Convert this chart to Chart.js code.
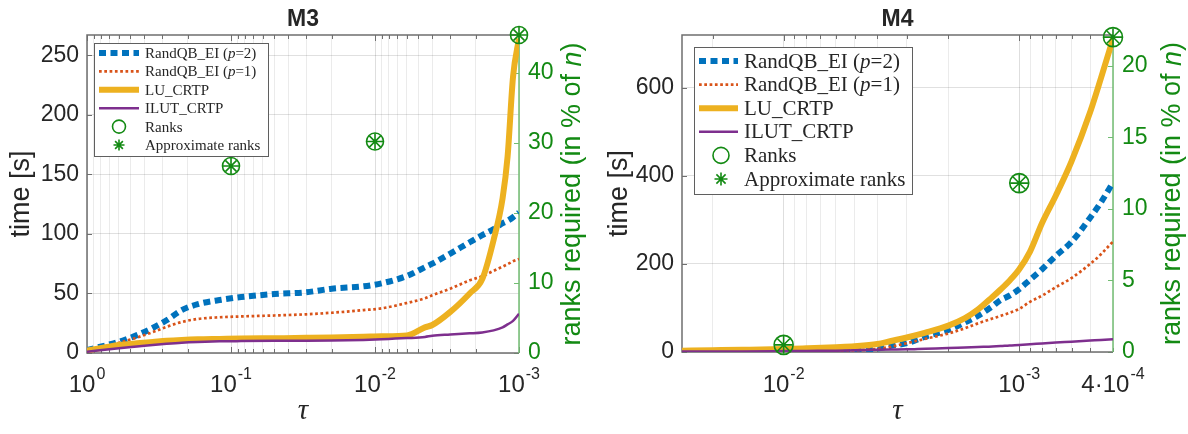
<!DOCTYPE html>
<html>
<head>
<meta charset="utf-8">
<script src="https://cdn.jsdelivr.net/npm/chart.js@4.4.0/dist/chart.umd.min.js"></script>
<style>
  html, body { margin: 0; padding: 0; background: #fff; }
  #wrap { position: relative; width: 1188px; height: 434px; }
  canvas { position: absolute; top: 0; }
  #m3 { left: 0; }
  #m4 { left: 594px; }
</style>
</head>
<body>
<div id="wrap">
  <canvas id="m3" width="594" height="434"></canvas>
  <canvas id="m4" width="594" height="434"></canvas>
</div>
<script>
// ---- data ----
const seriesNames = ['RandQB_EI (p=2)', 'RandQB_EI (p=1)', 'LU_CRTP', 'ILUT_CRTP', 'Ranks', 'Approximate ranks'];

// M3
const tauM3 = [1, 0.6, 0.45, 0.35, 0.28, 0.22, 0.17, 0.12, 0.085, 0.05, 0.03, 0.02, 0.012, 0.009, 0.006, 0.0045, 0.004, 0.003, 0.0022, 0.0018, 0.0015, 0.0013, 0.0012, 0.0011, 0.001];
const randQBp2M3 = [2.5, 9.5, 15, 21, 27.5, 36, 41, 44.5, 47, 49.5, 51, 54, 56, 58.5, 64.7, 72, 75, 83.5, 93, 99, 104, 109, 111, 114, 118];
const randQBp1M3 = [1, 8.5, 13, 17.5, 22, 26, 28.6, 30, 30.7, 31.5, 32.5, 33.8, 36, 37.5, 42, 46, 48.5, 54, 61, 64.5, 69, 72.5, 74.5, 77, 79];
const luM3 = [2, 6.7, 8.2, 9.3, 10.3, 11, 11.5, 11.8, 12.1, 12.4, 12.7, 13, 13.6, 14, 14.8, 21.5, 23.5, 34.5, 50, 62, 95, 130, 165, 232, 264];
const ilutM3 = [1, 4, 5.5, 6.8, 7.8, 8.7, 9.3, 9.8, 10, 10.2, 10.3, 10.5, 11, 11.5, 12.5, 13.5, 14.5, 15.5, 16.5, 17.3, 19, 21.5, 24, 27, 33];
const rankTauM3 = [0.1, 0.01, 0.001];
const ranksM3 = [26.7, 30.2, 45.4];
const yTicksM3 = [0, 50, 100, 150, 200, 250];
const rTicksM3 = [0, 10, 20, 30, 40];
const xTickValsM3 = [1, 0.1, 0.01, 0.001];
const xTickLabelsM3 = ['10^0', '10^-1', '10^-2', '10^-3'];

// M4
const tauM4 = [0.027, 0.02, 0.015, 0.01, 0.008, 0.006, 0.005, 0.004, 0.0035, 0.003, 0.0025, 0.002, 0.0017, 0.0015, 0.0013, 0.0012, 0.0011, 0.001, 0.0009, 0.0008, 0.0007, 0.0006, 0.0005, 0.00045, 0.0004];
const randQBp2M4 = [1.5, 1.5, 1.8, 2, 2.5, 3, 4, 8, 14, 20, 35, 50, 67, 82, 104, 118, 128, 143, 164, 188, 218, 250, 305, 340, 385];
const randQBp1M4 = [1, 1, 1.2, 1.5, 2, 3, 4, 7, 12, 20, 30, 42, 54, 65, 76, 82, 89, 98, 114, 128, 147, 168, 200, 222, 251];
const luM4 = [3, 4, 5, 6.8, 8.5, 11, 13, 18, 25, 33, 44, 60, 77, 96, 125, 142, 162, 188, 228, 293, 355, 433, 545, 622, 712];
const ilutM4 = [1, 1, 1.2, 2, 2.5, 3, 4, 5, 5.5, 6, 7.5, 9, 10.5, 11.5, 12.5, 13.5, 15, 16, 17.5, 19.5, 21.5, 23.5, 26, 27.5, 29];
const rankTauM4 = [0.01, 0.001, 0.0004];
const ranksM4 = [0.5, 11.8, 22.0];
const yTicksM4 = [0, 200, 400, 600];
const rTicksM4 = [0, 5, 10, 15, 20];
const xTickValsM4 = [0.01, 0.001, 0.0004];
const xTickLabelsM4 = ['10^-2', '10^-3', '4\u00b710^-4'];

// ---- styling ----
const SANS = '"Liberation Sans", Arial, Helvetica, sans-serif';
const SERIF = '"Liberation Serif", "Times New Roman", serif';
const INK = '#262626';
const BOX = '#6f6f6f';
const GREEN = '#138a13';
const GREEN_AXIS = '#72bd72';
const BLUE = '#0072BD', RED = '#D95319', YELLOW = '#EDB120', PURPLE = '#7E2F8E';

function isDecade(v) {
  const l = Math.log10(v);
  return Math.abs(l - Math.round(l)) < 1e-6;
}

// every 1..9 x 10^k inside [lo, hi] (for grid lines / minor ticks)
function logGridValues(lo, hi) {
  const out = [];
  for (let k = Math.floor(Math.log10(lo)); k <= Math.ceil(Math.log10(hi)); k++) {
    for (let m = 1; m <= 9; m++) {
      const v = Number((m * Math.pow(10, k)).toPrecision(6));
      if (v >= lo * 0.9999 && v <= hi * 1.0001) out.push(v);
    }
  }
  return out;
}

function seg(ctx, x1, y1, x2, y2) {
  ctx.beginPath(); ctx.moveTo(x1, y1); ctx.lineTo(x2, y2); ctx.stroke();
}

function starPath(ctx, x, y, r) {
  ctx.beginPath();
  for (let k = 0; k < 4; k++) {
    const a = k * Math.PI / 4;
    ctx.moveTo(x - Math.cos(a) * r, y - Math.sin(a) * r);
    ctx.lineTo(x + Math.cos(a) * r, y + Math.sin(a) * r);
  }
  ctx.stroke();
}

// draw a list of [text, italic] parts starting at x
function drawParts(ctx, parts, x, y, size, family) {
  let cx = x;
  parts.forEach(([t, it]) => {
    ctx.font = (it ? 'italic ' : '') + size + 'px ' + family;
    ctx.fillText(t, cx, y);
    cx += ctx.measureText(t).width;
  });
}
function partsWidth(ctx, parts, size, family) {
  let w = 0;
  parts.forEach(([t, it]) => {
    ctx.font = (it ? 'italic ' : '') + size + 'px ' + family;
    w += ctx.measureText(t).width;
  });
  return w;
}
function legendParts(text) {
  const m = text.match(/^(.*\()([a-z])(=.*)$/);
  return m ? [[m[1], false], [m[2], true], [m[3], false]] : [[text, false]];
}

const overlay = {
  id: 'overlay',
  beforeDatasetsDraw(chart, args, o) {
    const { ctx, chartArea: a, scales } = chart;
    const xs = scales.x, ys = scales.y, y2 = scales.y2;
    ctx.save();
    ctx.lineWidth = 1;
    ctx.strokeStyle = BOX;
    xs.ticks.forEach(t => {
      const px = Math.round(xs.getPixelForValue(t.value)) + 0.5;
      const len = isDecade(t.value) ? 6 : 4;
      seg(ctx, px, a.bottom, px, a.bottom - len);
      seg(ctx, px, a.top, px, a.top + len);
    });
    ys.ticks.forEach(t => {
      const py = Math.round(ys.getPixelForValue(t.value)) + 0.5;
      seg(ctx, a.left, py, a.left + 5, py);
    });
    ctx.strokeStyle = GREEN_AXIS;
    y2.ticks.forEach(t => {
      const py = Math.round(y2.getPixelForValue(t.value)) + 0.5;
      seg(ctx, a.right, py, a.right - 5, py);
    });
    ctx.lineWidth = 1.5;
    ctx.strokeStyle = BOX;
    ctx.beginPath();
    ctx.moveTo(a.right, a.top); ctx.lineTo(a.left, a.top);
    ctx.lineTo(a.left, a.bottom); ctx.lineTo(a.right, a.bottom);
    ctx.stroke();
    ctx.strokeStyle = GREEN_AXIS;
    seg(ctx, a.right, a.top, a.right, a.bottom);
    ctx.restore();
  },
  afterDraw(chart, args, o) {
    const { ctx, chartArea: a, scales } = chart;
    const xs = scales.x;
    const midX = (a.left + a.right) / 2, midY = (a.top + a.bottom) / 2;
    ctx.save();

    // x tick labels with exponents
    ctx.fillStyle = INK;
    ctx.textAlign = 'left';
    ctx.textBaseline = 'alphabetic';
    o.xTickVals.forEach((v, i) => {
      const [base, exp] = o.xTickLabels[i].split('^');
      const px = xs.getPixelForValue(v);
      ctx.font = '24px ' + SANS; const wb = ctx.measureText(base).width;
      ctx.font = '16px ' + SANS; const we = ctx.measureText(exp).width;
      const x0 = px - (wb + we + 1) / 2;
      ctx.font = '24px ' + SANS; ctx.fillText(base, x0, 392);
      ctx.font = '16px ' + SANS; ctx.fillText(exp, x0 + wb + 1, 379);
    });

    // title
    ctx.textAlign = 'center';
    ctx.textBaseline = 'middle';
    ctx.font = 'bold 23px ' + SANS;
    ctx.fillText(o.title, midX, 20);

    // x title
    ctx.font = 'italic 29px ' + SERIF;
    ctx.fillText('\u03c4', midX, 411);

    // left y title
    ctx.save();
    ctx.translate(o.yTitleX, midY);
    ctx.rotate(-Math.PI / 2);
    ctx.font = '27px ' + SANS;
    ctx.fillText('time [s]', 0, 0);
    ctx.restore();

    // right y title
    ctx.save();
    ctx.translate(o.rTitleX, midY);
    ctx.rotate(-Math.PI / 2);
    ctx.fillStyle = GREEN;
    ctx.textAlign = 'left';
    const rParts = [['ranks required (in % of ', false], ['n', true], [')', false]];
    const rw = partsWidth(ctx, rParts, 27, SANS);
    drawParts(ctx, rParts, -rw / 2, 0, 27, SANS);
    ctx.restore();

    // legend
    const L = o.legend;
    ctx.fillStyle = '#fff';
    ctx.fillRect(L.x, L.y, L.w, L.h);
    ctx.strokeStyle = '#5f5f5f';
    ctx.lineWidth = 1;
    ctx.strokeRect(L.x + 0.5, L.y + 0.5, L.w, L.h);
    chart.data.datasets.forEach((ds, i) => {
      const ry = L.row0 + i * L.dy;
      if (ds.showLine !== false) {
        ctx.setLineDash(ds.borderDash || []);
        ctx.lineCap = 'butt';
        ctx.lineWidth = ds.borderWidth;
        ctx.strokeStyle = ds.borderColor;
        seg(ctx, L.x1, ry, L.x2, ry);
        ctx.setLineDash([]);
      } else if (ds.pointStyle === 'circle') {
        ctx.strokeStyle = GREEN; ctx.lineWidth = 1.6;
        ctx.beginPath(); ctx.arc(L.mx, ry, L.cr, 0, 2 * Math.PI); ctx.stroke();
      } else {
        ctx.strokeStyle = GREEN; ctx.lineWidth = 1.6;
        starPath(ctx, L.mx, ry, L.sr);
      }
      ctx.fillStyle = INK;
      ctx.textAlign = 'left';
      ctx.textBaseline = 'middle';
      drawParts(ctx, legendParts(ds.label), L.tx, ry + 1, L.font, SERIF);
    });
    ctx.restore();
  }
};

function lineSet(label, tau, vals, color, width, dash, order) {
  return {
    label, order,
    data: tau.map((t, i) => ({ x: t, y: vals[i] })),
    yAxisID: 'y',
    borderColor: color, backgroundColor: color,
    borderWidth: width, borderDash: dash, borderCapStyle: 'butt',
    pointRadius: 0, fill: false,
    cubicInterpolationMode: 'monotone'
  };
}

function markerSet(label, tau, ranks, style, r, order) {
  return {
    label, order,
    data: tau.map((t, i) => ({ x: t, y: ranks[i] })),
    yAxisID: 'y2',
    showLine: false, clip: false,
    pointStyle: style, pointRadius: r, pointBorderWidth: 1.6,
    pointBorderColor: GREEN, pointBackgroundColor: 'rgba(0,0,0,0)',
    borderColor: GREEN, backgroundColor: 'rgba(0,0,0,0)'
  };
}

function makeChart(id, c) {
  const gridX = logGridValues(c.xMin, c.xMax);
  const tickList = arr => scale => { scale.ticks = arr.map(v => ({ value: v })); };
  return new Chart(document.getElementById(id), {
    type: 'line',
    data: {
      datasets: [
        lineSet(seriesNames[0], c.tau, c.series[0], BLUE, 6, [7, 4.5], 5),
        lineSet(seriesNames[1], c.tau, c.series[1], RED, 2.7, [2.7, 2.6], 4),
        lineSet(seriesNames[2], c.tau, c.series[2], YELLOW, 6, [], 3),
        lineSet(seriesNames[3], c.tau, c.series[3], PURPLE, 2.5, [], 2),
        markerSet(seriesNames[4], c.rankTau, c.ranks, 'circle', c.circleR, 1),
        markerSet(seriesNames[5], c.rankTau, c.ranks, 'star', c.starR, 0)
      ]
    },
    options: {
      responsive: false,
      animation: false,
      events: [],
      layout: { padding: { top: 35, left: 0, right: 0, bottom: 0 } },
      scales: {
        x: {
          type: 'logarithmic', reverse: true, bounds: 'data',
          min: c.xMin, max: c.xMax,
          afterBuildTicks: tickList(gridX),
          ticks: { display: false },
          grid: {
            drawTicks: false,
            color: ctx => isDecade(ctx.tick.value) ? 'rgba(0,0,0,0.13)' : 'rgba(0,0,0,0.08)'
          },
          border: { display: false },
          afterFit: s => { s.height = c.xAxisH; }
        },
        y: {
          type: 'linear', position: 'left', bounds: 'data',
          min: 0, max: c.yMax,
          afterBuildTicks: tickList(c.yTicks),
          ticks: { font: { family: SANS, size: 23 }, color: INK, padding: 8 },
          grid: { drawTicks: false, color: 'rgba(0,0,0,0.12)' },
          border: { display: false },
          afterFit: s => { s.width = c.yAxisW; }
        },
        y2: {
          type: 'linear', position: 'right', bounds: 'data',
          min: 0, max: c.rMax,
          afterBuildTicks: tickList(c.rTicks),
          ticks: { font: { family: SANS, size: 23 }, color: GREEN, padding: 9 },
          grid: { display: false, drawOnChartArea: false, drawTicks: false },
          border: { display: false },
          afterFit: s => { s.width = 594 - 519; }
        }
      },
      plugins: {
        legend: { display: false },
        tooltip: { enabled: false },
        overlay: {
          title: c.title,
          xTickVals: c.xTickVals, xTickLabels: c.xTickLabels,
          yTitleX: c.yTitleX, rTitleX: c.rTitleX,
          legend: c.legend
        }
      }
    },
    plugins: [overlay]
  });
}

makeChart('m3', {
  title: 'M3',
  tau: tauM3, series: [randQBp2M3, randQBp1M3, luM3, ilutM3],
  rankTau: rankTauM3, ranks: ranksM3,
  xMin: 0.001, xMax: 1, yMax: 267, rMax: 45.4,
  yTicks: yTicksM3, rTicks: rTicksM3,
  xTickVals: xTickValsM3, xTickLabels: xTickLabelsM3,
  yAxisW: 87, xAxisH: 81,
  yTitleX: 22, rTitleX: 573,
  circleR: 8.5, starR: 8,
  legend: { x: 94, y: 43, w: 174, h: 113, row0: 53, dy: 18.4, x1: 99, x2: 139, mx: 119, tx: 145, font: 15, cr: 6.5, sr: 5.5 }
});

makeChart('m4', {
  title: 'M4',
  tau: tauM4, series: [randQBp2M4, randQBp1M4, luM4, ilutM4],
  rankTau: rankTauM4, ranks: ranksM4,
  xMin: 0.0004, xMax: 0.027, yMax: 720, rMax: 22.15,
  yTicks: yTicksM4, rTicks: rTicksM4,
  xTickVals: xTickValsM4, xTickLabels: xTickLabelsM4,
  yAxisW: 88, xAxisH: 82,
  yTitleX: 26, rTitleX: 579,
  circleR: 9.5, starR: 9,
  legend: { x: 100, y: 47, w: 218, h: 147, row0: 61, dy: 23.6, x1: 105, x2: 144, mx: 127, tx: 150, font: 21, cr: 8, sr: 6.5 }
});
</script>
</body>
</html>
